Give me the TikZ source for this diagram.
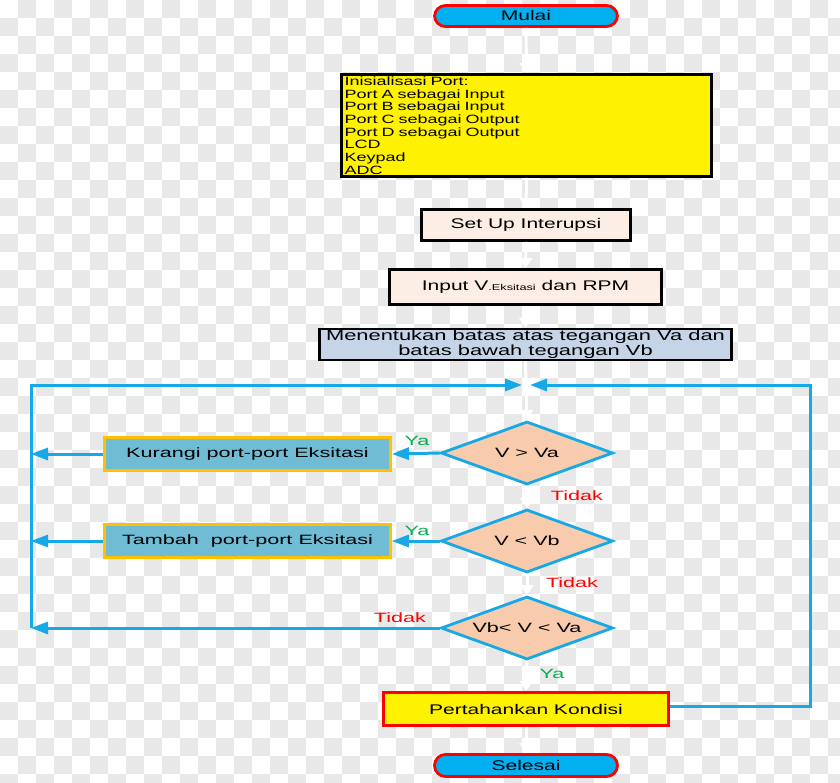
\documentclass[tikz,border=0pt]{standalone}
\usepackage{fontspec}
\setmainfont{Liberation Sans}
\newfontfamily\wide[FakeStretch=1.5]{Liberation Sans}
\newfontfamily\wider[FakeStretch=1.6]{Liberation Sans}
\usetikzlibrary{shapes.geometric,arrows.meta}
\definecolor{chk}{gray}{0.91}
\definecolor{cyanfill}{HTML}{00B0F0}
\definecolor{lineblue}{HTML}{17A8E6}
\definecolor{peach}{HTML}{FCEEE5}
\definecolor{slate}{HTML}{C5D4E6}
\definecolor{steel}{HTML}{70BCD5}
\definecolor{amber}{HTML}{FFC000}
\definecolor{dfill}{HTML}{F8CBAD}
\definecolor{yaG}{HTML}{00B050}
\definecolor{tdR}{HTML}{FF0000}
\tikzset{
  term/.style={draw=red, fill=cyanfill, line width=2.8pt, rounded corners=11pt,
    minimum width=183pt, inner sep=0pt, font=\wide\fontsize{14}{16}\selectfont},
  blackbox/.style={draw=black, line width=2.8pt, inner sep=0pt},
  sbox/.style={draw=amber, fill=steel, line width=2.8pt, minimum width=286pt,
    minimum height=33pt, inner sep=0pt, font=\wider\fontsize{13.5}{16}\selectfont},
  dec/.style={diamond, draw=lineblue, fill=dfill, line width=2.8pt, inner sep=0pt,
    shape aspect=2.7, minimum width=172pt, minimum height=63pt,
    font=\wider\fontsize{13.5}{16}\selectfont},
  bl/.style={draw=lineblue, line width=3pt, -{Triangle[length=17pt,width=12pt]}},
  wa/.style={draw=white, line width=3pt, -{Triangle[length=10pt,width=13pt]}},
  ya/.style={text=yaG, font=\wider\fontsize{13.5}{15}\selectfont, inner sep=0pt},
  td/.style={text=tdR, font=\wider\fontsize{13.5}{15}\selectfont, inner sep=0pt}
}
\begin{document}
\begin{tikzpicture}[x=1pt,y=-1pt]
\useasboundingbox (0,0) rectangle (840,783);
\begin{scope}
\clip (0,0) rectangle (840,783);
\fill[white] (0,0) rectangle (840,783);
\foreach \i in {0,...,46}{\foreach \j in {0,...,43}{\ifodd\numexpr\i+\j\relax
  \fill[chk] (\i*18,\j*18) rectangle ++(18,18);\fi}}
\end{scope}

% nodes
\node[term, minimum height=21pt] (mulai) at (526,16) {Mulai};
\node[blackbox, fill=yellow, minimum width=370pt, minimum height=102pt,
  text width=364pt, align=left, font=\wide\fontsize{12}{12.7}\selectfont] (init) at (526.5,125.5)
  {Inisialisasi Port:\\Port A sebagai Input\\Port B sebagai Input\\Port C sebagai Output\\Port D sebagai Output\\LCD\\Keypad\\ADC};
\node[blackbox, fill=peach, minimum width=209pt, minimum height=31pt,
  font=\wide\fontsize{14}{16}\selectfont] (setup) at (526,225) {Set Up Interupsi};
\node[blackbox, fill=peach, minimum width=272pt, minimum height=35pt,
  font=\wide\fontsize{14}{16}\selectfont] (input) at (525.5,287)
  {Input V{\fontsize{8.5}{9}\selectfont .Eksitasi} dan RPM};
\node[blackbox, fill=slate, minimum width=412pt, minimum height=31pt, align=center,
  font=\wide\fontsize{14.6}{15}\selectfont] (tentu) at (525.5,344.5)
  {Menentukan batas atas tegangan Va dan\\batas bawah tegangan Vb};
\coordinate (M) at (526,385);
\coordinate (LT) at (31,385);
\coordinate (LB) at (31,628);
\coordinate (RT) at (810,385);

\node[dec] (d1) at (527,453) {V > Va};
\node[dec] (d2) at (527,541) {V < Vb};
\node[dec] (d3) at (527,628) {Vb< V < Va};
\node[sbox] (kur) at (247.5,454) {Kurangi port-port Eksitasi};
\node[sbox] (tam) at (247.5,541) {Tambah\ \ port-port Eksitasi};
\node[blackbox, draw=red, fill=yellow, minimum width=285pt, minimum height=33pt,
  font=\wide\fontsize{14}{16}\selectfont] (per) at (526,709) {Pertahankan Kondisi};
\node[term, minimum height=22pt] (sel) at (526,765.5) {Selesai};

% labels
\node[ya] (ya1) at (417,441) {Ya};
\node[ya] (ya2) at (417,531) {Ya};
\node[ya] (ya3) at (552,674) {Ya};
\node[td] (t1) at (577,496) {Tidak};
\node[td] (t2) at (572,583) {Tidak};
\node[td] (t3) at (400,618) {Tidak};

% white flow arrows
\draw[wa] (mulai.south) -- (init.north);
\draw[wa] (init.south) -- (setup.north);
\draw[wa] (setup.south) -- (input.north);
\draw[wa] (input.south) -- (tentu.north);
\draw[wa, -] (tentu.south) -- (M);
\draw[wa] (M) -- (d1.north);
\draw[wa] (d1.south) -- (d2.north);
\draw[wa] (d2.south) -- (d3.north);
\draw[wa] (d3.south) -- (per.north);
\draw[wa] (per.south) -- (sel.north);

% blue connectors
\draw[bl] (d1.west) -- (kur.east);
\draw[bl] (d2.west) -- (tam.east);
\draw[bl] (kur.west) -- (kur.west -| LT);
\draw[bl] (tam.west) -- (tam.west -| LT);
\draw[bl] (d3.west) -- (LB);
\draw[bl] (LB) -- (LT) -- ([xshift=-4pt]M);
\draw[bl] ([yshift=3pt]per.east) -| (RT) -- ([xshift=4pt]M);
\end{tikzpicture}
\end{document}
